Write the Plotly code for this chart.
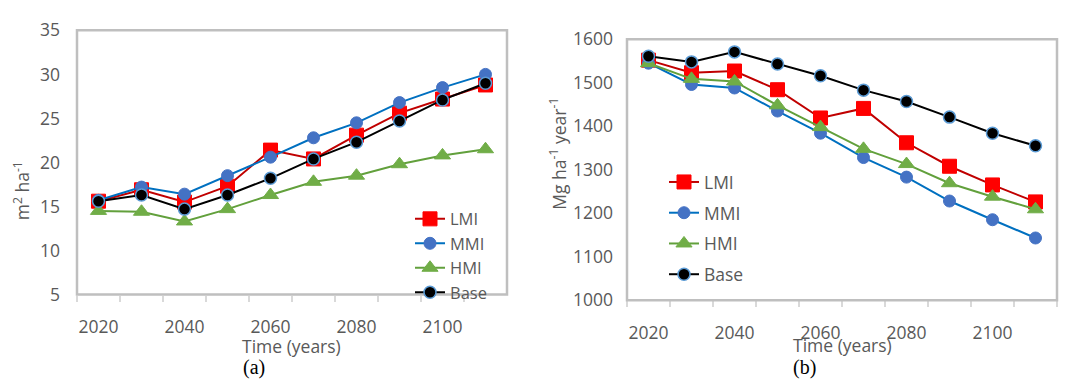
import plotly.graph_objects as go

years = ["2020", "2030", "2040", "2050", "2060", "2070", "2080", "2090", "2100", "2110"]
tick_text = ["2020", "", "2040", "", "2060", "", "2080", "", "2100", ""]

# Panel (a): basal area, m2 ha-1
a_lmi = [15.6, 16.9, 15.5, 17.3, 21.4, 20.4, 23.1, 25.6, 27.2, 28.8]
a_mmi = [15.7, 17.2, 16.4, 18.5, 20.6, 22.8, 24.5, 26.8, 28.5, 30.0]
a_hmi = [14.5, 14.4, 13.3, 14.7, 16.3, 17.8, 18.5, 19.8, 20.8, 21.5]
a_base = [15.6, 16.3, 14.7, 16.3, 18.2, 20.4, 22.3, 24.7, 27.1, 29.0]

# Panel (b): Mg ha-1 year-1
b_lmi = [1552, 1523, 1527, 1484, 1419, 1441, 1362, 1308, 1265, 1226]
b_mmi = [1545, 1496, 1488, 1435, 1384, 1328, 1283, 1228, 1185, 1143]
b_hmi = [1545, 1509, 1503, 1448, 1398, 1348, 1313, 1269, 1238, 1209]
b_base = [1561, 1548, 1571, 1543, 1516, 1483, 1457, 1421, 1384, 1355]

names = ["LMI", "MMI", "HMI", "Base"]
styles = {
    "LMI": dict(line=dict(color="#c00000", width=2),
                marker=dict(symbol="square", size=14, color="#ff0000",
                            line=dict(color="#ff0000", width=1))),
    "MMI": dict(line=dict(color="#0070c0", width=2),
                marker=dict(symbol="circle", size=12, color="#4472c4",
                            line=dict(color="#4472c4", width=1))),
    "HMI": dict(line=dict(color="#62a03c", width=2),
                marker=dict(symbol="triangle-up", size=14, color="#70ad47",
                            line=dict(color="#70ad47", width=1))),
    "Base": dict(line=dict(color="#000000", width=2),
                 marker=dict(symbol="circle", size=12, color="#000000",
                             line=dict(color="#5b9bd5", width=1.5))),
}

fig = go.Figure()
for nm, vals in zip(names, [a_lmi, a_mmi, a_hmi, a_base]):
    fig.add_trace(go.Scatter(x=years, y=vals, name=nm, mode="lines+markers",
                             xaxis="x", yaxis="y", legend="legend",
                             **styles[nm]))
for nm, vals in zip(names, [b_lmi, b_mmi, b_hmi, b_base]):
    fig.add_trace(go.Scatter(x=years, y=vals, name=nm, mode="lines+markers",
                             xaxis="x2", yaxis="y2", legend="legend2",
                             legendgroup="b" + nm, **styles[nm]))

W, H = 1065, 390
font = dict(family="Open Sans, sans-serif", size=17.5, color="#595959")
legfont = dict(family="Open Sans, sans-serif", size=16.5, color="#595959")

def xdom(l, r):
    return [l / W, r / W]

def ydom(t, b):
    return [1 - b / H, 1 - t / H]

xcommon = dict(type="category", categoryorder="array", categoryarray=years,
               range=[-0.5, 9.5], autorange=False,
               tickvals=years, ticktext=tick_text, tickson="boundaries",
               tickangle=0,
               ticks="outside", ticklen=6, tickcolor="#d9d9d9", tickwidth=1.5,
               showgrid=False, zeroline=False, showline=False,
               ticklabelstandoff=20, tickfont=font)
ycommon = dict(showgrid=False, zeroline=False, showline=False, ticks="",
               tickfont=font)

fig.update_layout(
    width=W, height=H,
    margin=dict(l=0, r=0, t=0, b=0),
    paper_bgcolor="white", plot_bgcolor="white",
    font=font,
    showlegend=True,
    xaxis=dict(domain=xdom(77, 507), anchor="y", **xcommon),
    yaxis=dict(domain=ydom(18.5, 300), anchor="x", range=[5, 35],
               tickvals=[5, 10, 15, 20, 25, 30, 35], ticklabelstandoff=16,
               **ycommon),
    xaxis2=dict(domain=xdom(627, 1057), anchor="y2", **xcommon),
    yaxis2=dict(domain=ydom(28, 306), anchor="x2", range=[1000, 1600],
                tickvals=[1000, 1100, 1200, 1300, 1400, 1500, 1600],
                ticklabelstandoff=13, **ycommon),
    legend=dict(x=410 / W, y=1 - 201 / H, xanchor="left", yanchor="top",
                bgcolor="rgba(0,0,0,0)", font=legfont, tracegroupgap=0),
    legend2=dict(x=664 / W, y=1 - 161 / H, xanchor="left", yanchor="top",
                 bgcolor="rgba(0,0,0,0)", font=font, traceorder="grouped",
                 tracegroupgap=5),
    shapes=[
        dict(type="rect", xref="x domain", yref="y domain", x0=0, x1=1,
             y0=0, y1=1, line=dict(color="#bfbfbf", width=2.5), layer="above"),
        dict(type="rect", xref="x2 domain", yref="y2 domain", x0=0, x1=1,
             y0=0, y1=1, line=dict(color="#bfbfbf", width=2.5), layer="above"),
    ],
    annotations=[
        dict(text="m<sup>2</sup> ha<sup>-1</sup>", xref="paper", yref="paper",
             x=21 / W, y=1 - 190 / H, textangle=-90, showarrow=False,
             xanchor="center", yanchor="middle", font=font),
        dict(text="Mg ha<sup>-1</sup> year<sup>-1</sup>", xref="paper",
             yref="paper", x=558 / W, y=1 - 150 / H, textangle=-90,
             showarrow=False, xanchor="center", yanchor="middle", font=font),
        dict(text="Time (years)", xref="paper", yref="paper", x=291 / W,
             y=1 - 355 / H, showarrow=False, xanchor="center",
             yanchor="middle", font=font),
        dict(text="Time (years)", xref="paper", yref="paper", x=842 / W,
             y=1 - 354 / H, showarrow=False, xanchor="center",
             yanchor="middle", font=font),
        dict(text="(a)", xref="paper", yref="paper", x=254 / W, y=1 - 378 / H,
             showarrow=False, xanchor="center", yanchor="middle",
             font=dict(family="Liberation Serif, Times New Roman, serif",
                       size=20, color="#000000")),
        dict(text="(b)", xref="paper", yref="paper", x=804 / W, y=1 - 378 / H,
             showarrow=False, xanchor="center", yanchor="middle",
             font=dict(family="Liberation Serif, Times New Roman, serif",
                       size=20, color="#000000")),
    ],
)

fig.write_html("out.html")
